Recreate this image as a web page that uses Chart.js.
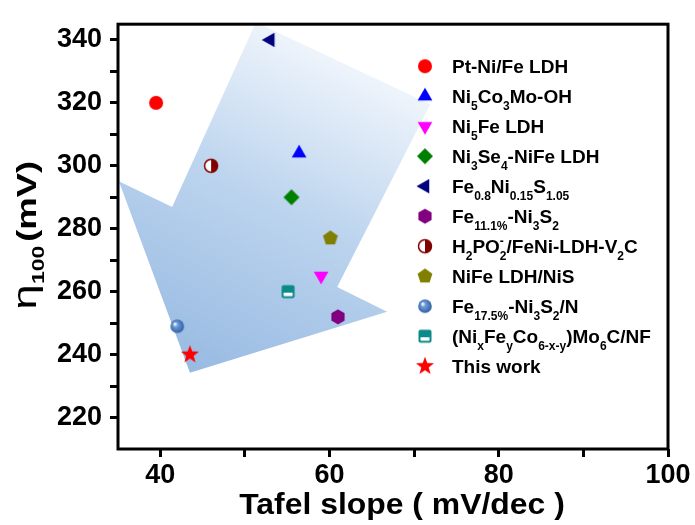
<!DOCTYPE html>
<html>
<head>
<meta charset="utf-8">
<script src="https://cdn.jsdelivr.net/npm/chart.js@4.4.0/dist/chart.umd.min.js"></script>
<style>
  html, body { margin: 0; padding: 0; background: #fff; }
  #wrap { width: 695px; height: 525px; }
</style>
</head>
<body>
<div id="wrap"><canvas id="chart" width="695" height="525"></canvas></div>
<script>
// Catalysts in legend order (_{..} = subscript, ^{..} = superscript)
const catalysts = [
    'Pt-Ni/Fe LDH',
    'Ni_{5}Co_{3}Mo-OH',
    'Ni_{5}Fe LDH',
    'Ni_{3}Se_{4}-NiFe LDH',
    'Fe_{0.8}Ni_{0.15}S_{1.05}',
    'Fe_{11.1%}-Ni_{3}S_{2}',
    'H_{2}PO_{2}^{-}/FeNi-LDH-V_{2}C',
    'NiFe LDH/NiS',
    'Fe_{17.5%}-Ni_{3}S_{2}/N',
    '(Ni_{x}Fe_{y}Co_{6-x-y})Mo_{6}C/NF',
    'This work'
];

// Tafel slope (mV/dec) and overpotential at 100 mA/cm2 (mV)
const tafelSlope = [39.5, 56.4, 59.0, 55.5, 53.0, 61.0, 46.0, 60.1, 42.0, 55.1, 43.5];
const eta100 = [320, 304, 265, 290, 340, 252, 300, 277, 249, 260, 240];

const markerKinds = ['circle', 'triUp', 'triDown', 'diamond', 'triLeft', 'hexagon',
    'halfCircle', 'pentagon', 'sphere', 'halfSquare', 'star'];
const markerColors = ['#ff0000', '#0000ff', '#ff00ff', '#008000', '#000080', '#800080',
    '#800000', '#808000', '#2d5fa6', '#0b8a8a', '#ff0000'];

// Background arrow outline, in axis units
const arrowTafel = [51.3, 71.9, 60.9, 66.8, 43.5, 35.1, 41.4];
const arrowEta = [345.6, 319.6, 261.5, 253.6, 234.2, 295.1, 286.9];

const xTicks = [40, 50, 60, 70, 80, 90, 100];
const yTicks = [220, 230, 240, 250, 260, 270, 280, 290, 300, 310, 320, 330, 340];

const FONT = "'Liberation Sans', Arial, sans-serif";

function makeMarker(kind, color) {
    const c = document.createElement('canvas');
    c.width = 22;
    c.height = 22;
    const g = c.getContext('2d');
    g.translate(11, 11);
    g.fillStyle = color;
    g.strokeStyle = color;

    const poly = (n, r, rot) => {
        g.beginPath();
        for (let i = 0; i < n; i++) {
            const a = rot + i * 2 * Math.PI / n;
            g.lineTo(r * Math.cos(a), r * Math.sin(a));
        }
        g.closePath();
        g.fill();
    };

    switch (kind) {
        case 'circle':
            g.beginPath(); g.arc(0, 0, 7, 0, 2 * Math.PI); g.fill();
            break;
        case 'triUp': poly(3, 8.5, -Math.PI / 2); break;
        case 'triDown': poly(3, 8.5, Math.PI / 2); break;
        case 'triLeft': poly(3, 8.5, Math.PI); break;
        case 'diamond': poly(4, 8, -Math.PI / 2); break;
        case 'hexagon': poly(6, 7.6, -Math.PI / 2); break;
        case 'pentagon': poly(5, 7.8, -Math.PI / 2); break;
        case 'star': {
            g.beginPath();
            for (let i = 0; i < 10; i++) {
                const r = i % 2 === 0 ? 9.5 : 3.9;
                const a = -Math.PI / 2 + i * Math.PI / 5;
                g.lineTo(r * Math.cos(a), r * Math.sin(a));
            }
            g.closePath();
            g.fill();
            break;
        }
        case 'halfCircle':
            g.fillStyle = '#fff';
            g.beginPath(); g.arc(0, 0, 6.5, 0, 2 * Math.PI); g.fill();
            g.fillStyle = color;
            g.beginPath(); g.arc(0, 0, 6.5, -Math.PI / 2, Math.PI / 2); g.closePath(); g.fill();
            g.lineWidth = 1.5;
            g.beginPath(); g.arc(0, 0, 6.5, 0, 2 * Math.PI); g.stroke();
            break;
        case 'sphere': {
            const rg = g.createRadialGradient(-2.5, -2.5, 0.5, 0, 0, 7);
            rg.addColorStop(0, '#ffffff');
            rg.addColorStop(0.3, '#6f9bd6');
            rg.addColorStop(1, color);
            g.fillStyle = rg;
            g.beginPath(); g.arc(0, 0, 6.8, 0, 2 * Math.PI); g.fill();
            break;
        }
        case 'halfSquare':
            g.beginPath();
            g.roundRect(-6.5, -6.5, 13, 13, 2);
            g.fill();
            g.fillStyle = '#fff';
            g.fillRect(-4.5, 1, 9, 3.5);
            break;
    }
    return c;
}

const markers = markerKinds.map((k, i) => makeMarker(k, markerColors[i]));

function parseRich(s) {
    const parts = [];
    const re = /([_^])\{([^}]*)\}|([^_^]+)/g;
    let m;
    while ((m = re.exec(s))) {
        if (m[3]) parts.push({ t: m[3], k: 'n' });
        else parts.push({ t: m[2], k: m[1] === '_' ? 'sub' : 'sup' });
    }
    return parts;
}

function drawRich(ctx, s, x, y, size) {
    let cx = x;
    let subStart = null;
    parseRich(s).forEach(p => {
        const small = p.k !== 'n';
        ctx.font = 'bold ' + (small ? Math.round(size * 0.62) : size) + 'px ' + FONT;
        let dy = 0;
        if (p.k === 'sub') dy = size * 0.36;
        if (p.k === 'sup') dy = -size * 0.42;
        let px = cx;
        if (p.k === 'sup' && subStart !== null) px = subStart;
        ctx.fillText(p.t, px, y + dy);
        const w = ctx.measureText(p.t).width;
        if (p.k === 'sub') subStart = cx; else subStart = null;
        cx = Math.max(cx, px + w);
    });
}

// gradient arrow behind the points
const arrowPlugin = {
    id: 'arrowBg',
    beforeDatasetsDraw(chart) {
        const { ctx, chartArea, scales } = chart;
        const pts = arrowTafel.map((v, i) => [scales.x.getPixelForValue(v), scales.y.getPixelForValue(arrowEta[i])]);
        ctx.save();
        ctx.beginPath();
        ctx.rect(chartArea.left, chartArea.top, chartArea.right - chartArea.left, chartArea.bottom - chartArea.top);
        ctx.clip();
        const grad = ctx.createLinearGradient(pts[4][0], pts[4][1], (pts[0][0] + pts[1][0]) / 2, (pts[0][1] + pts[1][1]) / 2);
        grad.addColorStop(0, '#98bae2');
        grad.addColorStop(0.55, '#bcd4ee');
        grad.addColorStop(1, '#eef4fb');
        ctx.fillStyle = grad;
        ctx.beginPath();
        pts.forEach(p => ctx.lineTo(p[0], p[1]));
        ctx.closePath();
        ctx.fill();
        ctx.restore();
    }
};

// frame, legend and axis titles
const decorPlugin = {
    id: 'decor',
    afterDatasetsDraw(chart) {
        const { ctx, chartArea } = chart;
        ctx.save();
        ctx.strokeStyle = '#000';
        ctx.lineWidth = 3;
        ctx.strokeRect(chartArea.left, chartArea.top, chartArea.right - chartArea.left, chartArea.bottom - chartArea.top);

        // legend
        const mx = chartArea.left + 307;
        const tx = chartArea.left + 334;
        ctx.fillStyle = '#000';
        ctx.textBaseline = 'alphabetic';
        ctx.textAlign = 'left';
        catalysts.forEach((label, i) => {
            const y = chartArea.top + 42 + i * 30;
            const m = markers[i];
            ctx.drawImage(m, mx - m.width / 2, y - m.height / 2);
            drawRich(ctx, label, tx, y + 6.5, 19);
        });

        // x axis title (slightly stretched like the original)
        ctx.save();
        ctx.translate((chartArea.left + chartArea.right) / 2 + 9, 514);
        ctx.scale(1.1, 1);
        ctx.font = 'bold 29px ' + FONT;
        ctx.textAlign = 'center';
        ctx.fillText('Tafel slope ( mV/dec )', 0, 0);
        ctx.restore();

        // y axis title: eta_100 (mV), rotated and stretched
        ctx.translate(36, chartArea.top + 211);
        ctx.rotate(-Math.PI / 2);
        ctx.scale(1.35, 1);
        ctx.textAlign = 'left';
        const parts = [
            ['\u03b7', '34px ' + FONT, 0, 0],
            ['100', 'bold 17px ' + FONT, 8, 3],
            ['(mV)', 'bold 27px ' + FONT, 0, 0]
        ];
        let total = 0;
        parts.forEach(p => { ctx.font = p[1]; total += ctx.measureText(p[0]).width + p[3]; });
        let x = -total / 2;
        parts.forEach(p => {
            ctx.font = p[1];
            ctx.fillText(p[0], x, p[2]);
            x += ctx.measureText(p[0]).width + p[3];
        });
        ctx.restore();
    }
};

const datasets = catalysts.map((label, i) => ({
    label: label,
    data: [{ x: tafelSlope[i], y: eta100[i] }],
    pointStyle: markers[i],
    pointRadius: 8,
    backgroundColor: markerColors[i],
    borderColor: markerColors[i],
    showLine: false
}));

const tickFont = { family: FONT, size: 27, weight: 'bold' };

new Chart(document.getElementById('chart').getContext('2d'), {
    type: 'scatter',
    data: { datasets: datasets },
    plugins: [arrowPlugin, decorPlugin],
    options: {
        responsive: false,
        animation: false,
        devicePixelRatio: 1,
        layout: { padding: { top: 19, right: 27, left: 0, bottom: 0 } },
        plugins: {
            legend: { display: false },
            tooltip: { enabled: false }
        },
        scales: {
            x: {
                type: 'linear',
                position: 'bottom',
                min: 35,
                max: 100,
                afterFit: s => { s.height = 76; },
                afterBuildTicks: s => { s.ticks = xTicks.map(v => ({ value: v })); },
                ticks: {
                    callback: v => (v % 20 === 0 ? v : ''),
                    font: tickFont,
                    color: '#000',
                    padding: 2,
                    maxRotation: 0,
                    autoSkip: false
                },
                grid: {
                    drawOnChartArea: false,
                    drawTicks: true,
                    tickLength: 8,
                    tickWidth: 3,
                    tickColor: '#000'
                },
                border: { display: false },
                title: { display: false }
            },
            y: {
                type: 'linear',
                min: 210,
                max: 345,
                afterFit: s => { s.width = 118; },
                afterBuildTicks: s => { s.ticks = yTicks.map(v => ({ value: v })); },
                ticks: {
                    callback: v => (v % 20 === 0 ? v : ''),
                    font: tickFont,
                    color: '#000',
                    padding: 8,
                    autoSkip: false
                },
                grid: {
                    drawOnChartArea: false,
                    drawTicks: true,
                    tickLength: 8,
                    tickWidth: 3,
                    tickColor: '#000'
                },
                border: { display: false },
                title: { display: false }
            }
        }
    }
});
</script>
</body>
</html>
